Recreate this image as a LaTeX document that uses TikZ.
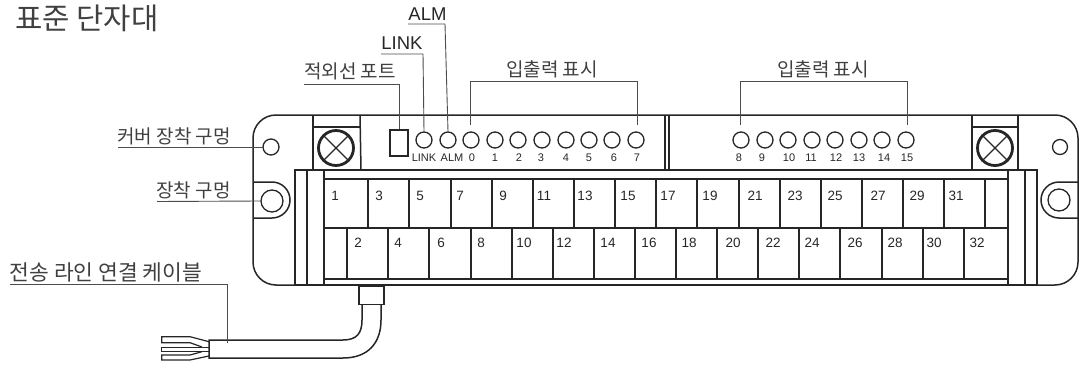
\documentclass[tikz,border=0pt]{standalone}
\usepackage{fontspec}
\setmainfont{Liberation Sans}
\newfontfamily\krfont{Noto Sans CJK KR}
\usetikzlibrary{calc}
\tikzset{
  body/.style={draw=black!85,line width=1.5pt},
  thin/.style={draw=black!85,line width=1.2pt},
  lead/.style={draw=black!70,line width=0.9pt},
  ledlamp/.style={circle,draw=black!85,line width=1.3pt,minimum size=16pt,inner sep=0pt},
  hole/.style={circle,draw=black!85,line width=1.3pt,inner sep=0pt},
  ledlabel/.style={font=\fontsize{11}{12}\selectfont,text=black!85,inner sep=0pt},
  termlabel/.style={font=\fontsize{13.5}{14}\selectfont,text=black!85,inner sep=0pt},
  krlabel/.style={font=\krfont\fontsize{19}{21}\selectfont,text=black!75,inner sep=0pt},
  toplabel/.style={font=\fontsize{18.5}{20}\selectfont,text=black!85,inner sep=0pt}
}
\begin{document}
\begin{tikzpicture}[x=1pt,y=-1pt]
  \useasboundingbox (0,0) rectangle (1079,369);
  \node [font=\krfont\fontsize{29.7}{32}\selectfont,text=black!75,inner sep=0pt] (title) at (87,18.5) {표준 단자대};
  % case
  \draw[body] (295,285) -- (276,285) arc (90:180:23) -- (253,138) arc (180:270:23) -- (1055,115) arc (270:360:23) -- (1078,262) arc (0:90:23) -- (1037,285);
  \draw[body] (253,182) -- (272,182) arc (-90:90:18) -- (253,218);
  \draw[body] (1078,182) -- (1059,182) arc (270:90:18) -- (1078,218);
  \node [hole,minimum size=16pt] (hole1) at (271,147) {};
  \node [hole,minimum size=15pt] (hole2) at (1060,147) {};
  \node [hole,minimum size=22pt] (mount1) at (272,201) {};
  \node [hole,minimum size=22pt] (mount2) at (1059,200) {};
  % panels and screws
  \draw[body] (313,115) -- (313,170);
  \draw[body] (360,115) -- (361,170);
  \draw[body] (313,127) -- (360,127);
  \draw[body] (972,115) -- (972,170);
  \draw[body] (1018,115) -- (1018,170);
  \draw[body] (972,127) -- (1018,127);
  \draw[body,line width=1.8pt] (665,115) -- (665,170);
  \draw[body,line width=1.8pt] (669,115) -- (669,170);
  \foreach \name/\xx in {screw1/336,screw2/995} {
    \node [circle,draw=black!85,line width=2.8pt,minimum size=35pt,inner sep=0pt] (\name) at (\xx,148) {};
    \draw[thin] (\name.45) -- (\name.225);
    \draw[thin] (\name.135) -- (\name.315);
  }
  \node [draw=black!85,line width=1.3pt,minimum width=18pt,minimum height=26pt,inner sep=0pt] (irport) at (399,143) {};
  % lamps
  \foreach \name/\xx/\lx/\txt in {link/424/424/LINK,alm/448/452/ALM,d0/471/472/0,d1/495/495/1,d2/518/519/2,d3/542/541/3,d4/566/566/4,d5/589/589/5,d6/612/614/6,d7/636/637/7,d8/741/739/8,d9/765/762/9,d10/788/789/10,d11/812/811/11,d12/835/836/12,d13/859/859/13,d14/882/884/14,d15/906/907/15} {
    \node [ledlamp] (\name) at (\xx,140) {};
    \node [ledlabel] (\name t) at (\lx,157.5) {\txt};
  }
  % terminal block
  \draw[body] (295,285) -- (295,170) -- (1037,170) -- (1037,285) -- cycle;
  \draw[body] (307,170) -- (307,285);
  \draw[body] (324,170) -- (324,285);
  \draw[body] (1008,170) -- (1008,285);
  \draw[body] (1025,170) -- (1025,285);
  \draw[body] (324,179) -- (1008,179);
  \draw[body] (324,228) -- (1008,228);
  \draw[body] (324,279) -- (1008,279);
  \foreach \xx in {368,409,451,492,533,574,615,656,697,739,780,821,862,903,944,985}
    \draw[thin] (\xx,179) -- (\xx,228);
  \foreach \xx in {347,388,429,471,512,553,594,635,676,717,758,799,840,882,923,964}
    \draw[thin] (\xx,228) -- (\xx,279);
  \foreach \xx/\txt in {335/1,379/3,420/5,460/7,503/9,544/11,585/13,628/15,668/17,710/19,755/21,795/23,835/25,878/27,917/29,956/31}
    \node [termlabel] (t\txt) at (\xx,195.5) {\txt};
  \foreach \xx/\txt in {358/2,398/4,441/6,481/8,524/10,564/12,608/14,649/16,689/18,733/20,773/22,812/24,855/26,895/28,934/30,977/32}
    \node [termlabel] (t\txt) at (\xx,243) {\txt};
  % cable
  \node [draw=black!85,line width=1.3pt,minimum width=25pt,minimum height=18pt,inner sep=0pt] (plug) at (371.5,295.5) {};
  \coordinate (cabtopa) at (362,304.5);
  \coordinate (cabtopb) at (381,304.5);
  \coordinate (cabenda) at (209,340);
  \coordinate (cabendb) at (209,358);
  \draw[body] (cabtopa) -- (362,320) .. controls (362,333) and (357,340) .. (343,340) -- (cabenda) -- (cabendb) -- (343,358) .. controls (368,358) and (381,343) .. (381,320) -- (cabtopb);
  \draw[thin] (209,341.7) -- (190,336.7) -- (161.7,336.7) -- (161.7,342.7) -- (190,342.7) -- (202,347);
  \draw[thin] (209,347.3) -- (161.7,347.3) -- (161.7,351.7) -- (209,351.7);
  \draw[thin] (202,351.7) -- (190,355) -- (161.7,355) -- (161.7,360) -- (190,360) -- (209,356);
  % labels
  \node [krlabel] (cover) at (174,136) {커버 장착 구멍};
  \draw[lead] (118,147) -- (hole1.west);
  \node [krlabel] (mountt) at (193.5,190) {장착 구멍};
  \draw[lead] (157,201.5) -- (mount1.west);
  \node [krlabel,font=\krfont\fontsize{21.5}{23}\selectfont] (wire) at (106,272) {전송 라인 연결 케이블};
  \coordinate (wireend) at (227,343);
  \draw[lead] (10,284) -- (227,284) -- (wireend);
  \node [krlabel] (irt) at (350,71) {적외선 포트};
  \draw[lead] (304,84.5) -- (399,84.5) -- (irport.north);
  \node [toplabel] (linkt2) at (402,43) {LINK};
  \draw[lead] (381,54) -- (423,54) -- (link.north);
  \node [toplabel] (almt2) at (427.5,14) {ALM};
  \draw[lead] (408,24) -- (445,24) -- (alm.north);
  \node [krlabel] (io1) at (552,69) {입출력 표시};
  \coordinate (io1a) at (470,125);
  \coordinate (io1b) at (637,125);
  \draw[lead] (io1a) -- (470,81) -- (637,81) -- (io1b);
  \node [krlabel] (io2) at (823,69) {입출력 표시};
  \coordinate (io2a) at (740,125);
  \coordinate (io2b) at (907,125);
  \draw[lead] (io2a) -- (740,81) -- (907,81) -- (io2b);
\end{tikzpicture}
\end{document}
